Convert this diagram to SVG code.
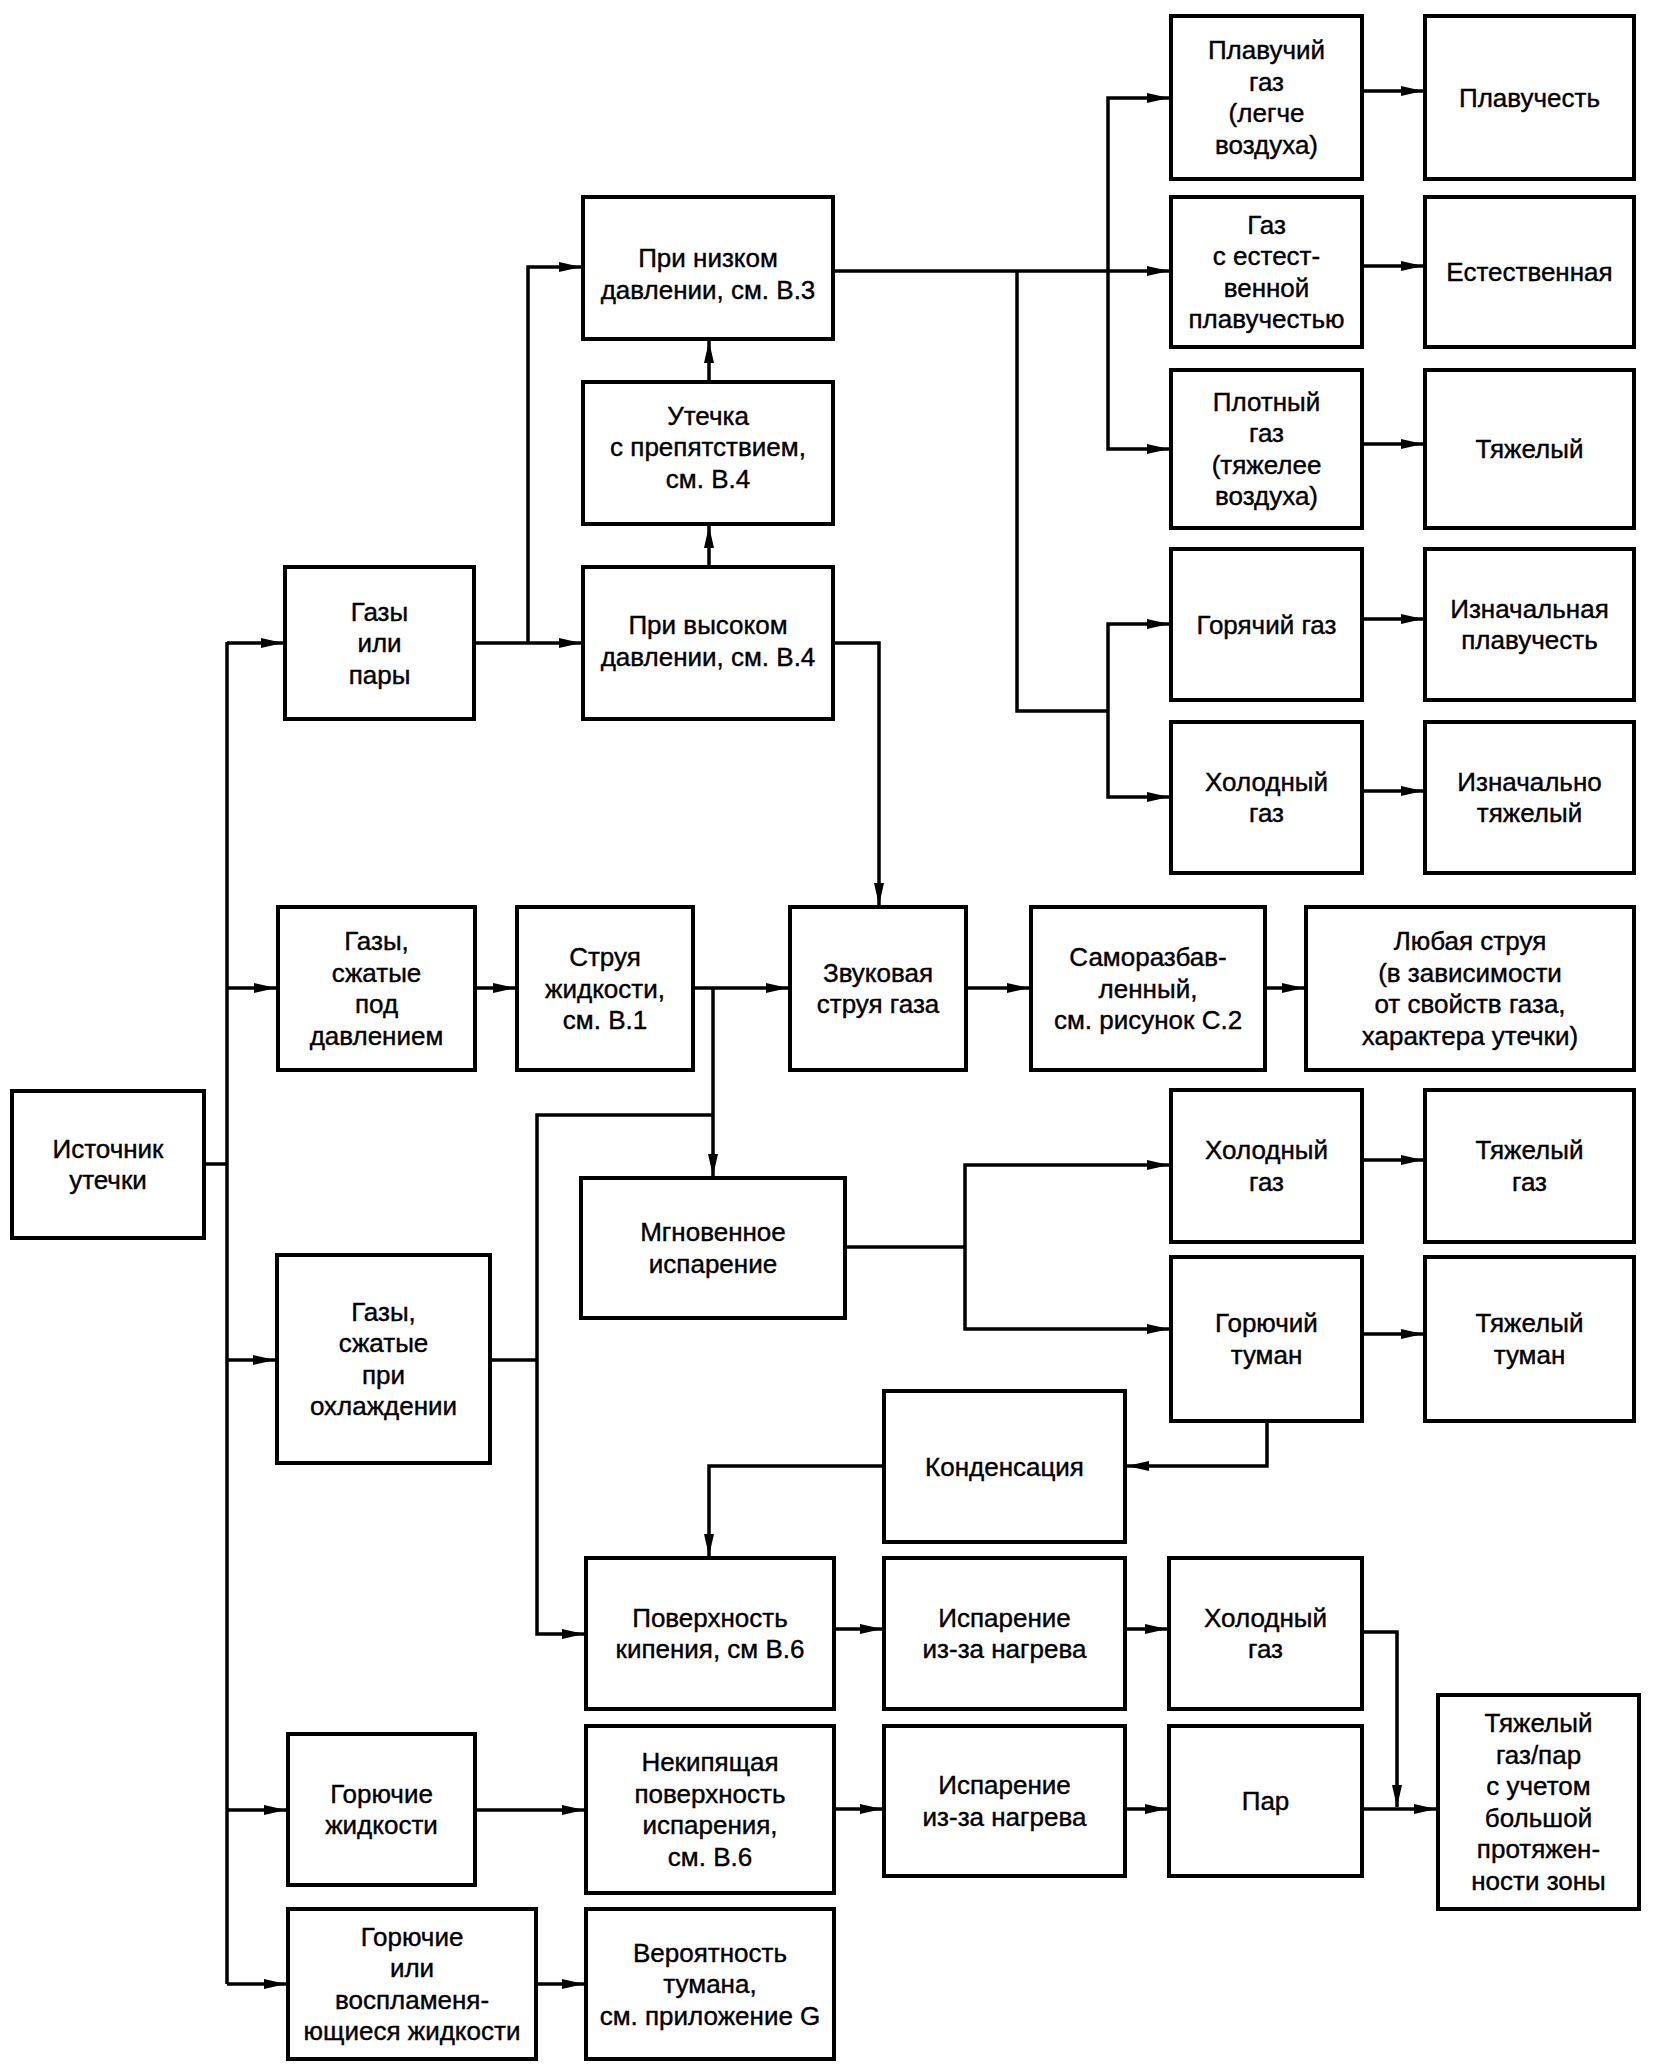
<svg xmlns="http://www.w3.org/2000/svg" width="1654" height="2071" viewBox="0 0 1654 2071">
<style>
.b{fill:#fff;stroke:#000;stroke-width:4}
.t{font-family:"Liberation Sans",Arial,sans-serif;font-size:26px;fill:#000;stroke:#000;stroke-width:0.4;text-anchor:middle}
.c{fill:none;stroke:#000;stroke-width:3.5}
.a{marker-end:url(#ah)}
</style>
<defs>
<marker id="ah" markerUnits="userSpaceOnUse" markerWidth="22" markerHeight="10" refX="22" refY="5" orient="auto">
<path d="M0,0 L22,5 L0,10 Z" fill="#000"/>
</marker>
</defs>
<rect width="1654" height="2071" fill="#fff"/>
<g id="connectors">
<path class="c" d="M204,1164 H227"/>
<path class="c" d="M227,642 V1984"/>
<path class="c a" d="M227,643 H283"/>
<path class="c a" d="M227,988 H276"/>
<path class="c a" d="M227,1360 H275"/>
<path class="c a" d="M227,1810 H286"/>
<path class="c a" d="M227,1984 H286"/>
<path class="c a" d="M474,643 H581"/>
<path class="c a" d="M528,643 V267 H581"/>
<path class="c a" d="M709,567 V526"/>
<path class="c a" d="M709,382 V341"/>
<path class="c a" d="M833,271 H1169"/>
<path class="c a" d="M1108,271 V98 H1169"/>
<path class="c a" d="M1108,271 V449 H1169"/>
<path class="c" d="M1017,271 V711 H1108"/>
<path class="c a" d="M1108,711 V624 H1169"/>
<path class="c a" d="M1108,711 V797 H1169"/>
<path class="c a" d="M1362,91 H1423"/>
<path class="c a" d="M1362,266 H1423"/>
<path class="c a" d="M1362,444 H1423"/>
<path class="c a" d="M1362,619 H1423"/>
<path class="c a" d="M1362,791 H1423"/>
<path class="c a" d="M833,643 H879 V905"/>
<path class="c a" d="M475,988 H515"/>
<path class="c a" d="M693,988 H788"/>
<path class="c a" d="M966,988 H1029"/>
<path class="c a" d="M1265,988 H1304"/>
<path class="c a" d="M713,988 V1176"/>
<path class="c a" d="M713,1115 H537 V1634 H584"/>
<path class="c" d="M490,1360 H537"/>
<path class="c" d="M845,1247 H965"/>
<path class="c a" d="M965,1247 V1165 H1169"/>
<path class="c a" d="M965,1247 V1329 H1169"/>
<path class="c a" d="M1362,1160 H1423"/>
<path class="c a" d="M1362,1334 H1423"/>
<path class="c a" d="M1267,1421 V1466 H1127"/>
<path class="c a" d="M884,1466 H709 V1556"/>
<path class="c a" d="M834,1629 H882"/>
<path class="c a" d="M1125,1629 H1167"/>
<path class="c a" d="M1362,1632 H1397 V1807"/>
<path class="c a" d="M475,1810 H584"/>
<path class="c a" d="M834,1809 H882"/>
<path class="c a" d="M1125,1809 H1167"/>
<path class="c a" d="M1362,1809 H1436"/>
<path class="c a" d="M536,1984 H584"/>
</g>
<g id="n-source"><rect class="b" x="12" y="1091" width="192" height="147"/><text class="t"><tspan x="108" y="1157.75">Источник</tspan><tspan x="108" y="1189.25">утечки</tspan></text></g>
<g id="n-gases"><rect class="b" x="285" y="567" width="189" height="152"/><text class="t"><tspan x="379.5" y="620.5">Газы</tspan><tspan x="379.5" y="652">или</tspan><tspan x="379.5" y="683.5">пары</tspan></text></g>
<g id="n-lowp"><rect class="b" x="583" y="197" width="250" height="142"/><text class="t"><tspan x="708" y="267.25">При низком</tspan><tspan x="708" y="298.75">давлении, см. В.3</tspan></text></g>
<g id="n-obst"><rect class="b" x="583" y="382" width="250" height="142"/><text class="t"><tspan x="708" y="424.5">Утечка</tspan><tspan x="708" y="456">с препятствием,</tspan><tspan x="708" y="487.5">см. В.4</tspan></text></g>
<g id="n-highp"><rect class="b" x="583" y="567" width="250" height="152"/><text class="t"><tspan x="708" y="634.25">При высоком</tspan><tspan x="708" y="665.75">давлении, см. В.4</tspan></text></g>
<g id="n-buoyant"><rect class="b" x="1171" y="16" width="191" height="163"/><text class="t"><tspan x="1266.5" y="59.25">Плавучий</tspan><tspan x="1266.5" y="90.75">газ</tspan><tspan x="1266.5" y="122.25">(легче</tspan><tspan x="1266.5" y="153.75">воздуха)</tspan></text></g>
<g id="n-buoyancy"><rect class="b" x="1425" y="16" width="209" height="163"/><text class="t"><tspan x="1529.5" y="106.5">Плавучесть</tspan></text></g>
<g id="n-natural"><rect class="b" x="1171" y="197" width="191" height="150"/><text class="t"><tspan x="1266.5" y="233.75">Газ</tspan><tspan x="1266.5" y="265.25">с естест-</tspan><tspan x="1266.5" y="296.75">венной</tspan><tspan x="1266.5" y="328.25">плавучестью</tspan></text></g>
<g id="n-natural2"><rect class="b" x="1425" y="197" width="209" height="150"/><text class="t"><tspan x="1529.5" y="281">Естественная</tspan></text></g>
<g id="n-dense"><rect class="b" x="1171" y="370" width="191" height="158"/><text class="t"><tspan x="1266.5" y="410.75">Плотный</tspan><tspan x="1266.5" y="442.25">газ</tspan><tspan x="1266.5" y="473.75">(тяжелее</tspan><tspan x="1266.5" y="505.25">воздуха)</tspan></text></g>
<g id="n-heavy"><rect class="b" x="1425" y="370" width="209" height="158"/><text class="t"><tspan x="1529.5" y="458">Тяжелый</tspan></text></g>
<g id="n-hot"><rect class="b" x="1171" y="549" width="191" height="151"/><text class="t"><tspan x="1266.5" y="633.5">Горячий газ</tspan></text></g>
<g id="n-initbuoy"><rect class="b" x="1425" y="549" width="209" height="151"/><text class="t"><tspan x="1529.5" y="617.75">Изначальная</tspan><tspan x="1529.5" y="649.25">плавучесть</tspan></text></g>
<g id="n-cold1"><rect class="b" x="1171" y="722" width="191" height="151"/><text class="t"><tspan x="1266.5" y="790.75">Холодный</tspan><tspan x="1266.5" y="822.25">газ</tspan></text></g>
<g id="n-initheavy"><rect class="b" x="1425" y="722" width="209" height="151"/><text class="t"><tspan x="1529.5" y="790.75">Изначально</tspan><tspan x="1529.5" y="822.25">тяжелый</tspan></text></g>
<g id="n-pressurized"><rect class="b" x="278" y="907" width="197" height="163"/><text class="t"><tspan x="376.5" y="950.25">Газы,</tspan><tspan x="376.5" y="981.75">сжатые</tspan><tspan x="376.5" y="1013.25">под</tspan><tspan x="376.5" y="1044.75">давлением</tspan></text></g>
<g id="n-liqjet"><rect class="b" x="517" y="907" width="176" height="163"/><text class="t"><tspan x="605" y="966">Струя</tspan><tspan x="605" y="997.5">жидкости,</tspan><tspan x="605" y="1029">см. В.1</tspan></text></g>
<g id="n-sonic"><rect class="b" x="790" y="907" width="176" height="163"/><text class="t"><tspan x="878" y="981.75">Звуковая</tspan><tspan x="878" y="1013.25">струя газа</tspan></text></g>
<g id="n-selfdil"><rect class="b" x="1031" y="907" width="234" height="163"/><text class="t"><tspan x="1148" y="966">Саморазбав-</tspan><tspan x="1148" y="997.5">ленный,</tspan><tspan x="1148" y="1029">см. рисунок С.2</tspan></text></g>
<g id="n-anyjet"><rect class="b" x="1306" y="907" width="328" height="163"/><text class="t"><tspan x="1470" y="950.25">Любая струя</tspan><tspan x="1470" y="981.75">(в зависимости</tspan><tspan x="1470" y="1013.25">от свойств газа,</tspan><tspan x="1470" y="1044.75">характера утечки)</tspan></text></g>
<g id="n-flash"><rect class="b" x="581" y="1178" width="264" height="140"/><text class="t"><tspan x="713" y="1241.25">Мгновенное</tspan><tspan x="713" y="1272.75">испарение</tspan></text></g>
<g id="n-cold2"><rect class="b" x="1171" y="1090" width="191" height="152"/><text class="t"><tspan x="1266.5" y="1159.25">Холодный</tspan><tspan x="1266.5" y="1190.75">газ</tspan></text></g>
<g id="n-heavygas"><rect class="b" x="1425" y="1090" width="209" height="152"/><text class="t"><tspan x="1529.5" y="1159.25">Тяжелый</tspan><tspan x="1529.5" y="1190.75">газ</tspan></text></g>
<g id="n-refrig"><rect class="b" x="277" y="1255" width="213" height="208"/><text class="t"><tspan x="383.5" y="1320.75">Газы,</tspan><tspan x="383.5" y="1352.25">сжатые</tspan><tspan x="383.5" y="1383.75">при</tspan><tspan x="383.5" y="1415.25">охлаждении</tspan></text></g>
<g id="n-mist"><rect class="b" x="1171" y="1257" width="191" height="164"/><text class="t"><tspan x="1266.5" y="1332.25">Горючий</tspan><tspan x="1266.5" y="1363.75">туман</tspan></text></g>
<g id="n-heavymist"><rect class="b" x="1425" y="1257" width="209" height="164"/><text class="t"><tspan x="1529.5" y="1332.25">Тяжелый</tspan><tspan x="1529.5" y="1363.75">туман</tspan></text></g>
<g id="n-condens"><rect class="b" x="884" y="1391" width="241" height="151"/><text class="t"><tspan x="1004.5" y="1475.5">Конденсация</tspan></text></g>
<g id="n-boil"><rect class="b" x="586" y="1558" width="248" height="151"/><text class="t"><tspan x="710" y="1626.75">Поверхность</tspan><tspan x="710" y="1658.25">кипения, см В.6</tspan></text></g>
<g id="n-evap1"><rect class="b" x="884" y="1558" width="241" height="151"/><text class="t"><tspan x="1004.5" y="1626.75">Испарение</tspan><tspan x="1004.5" y="1658.25">из-за нагрева</tspan></text></g>
<g id="n-cold3"><rect class="b" x="1169" y="1558" width="193" height="151"/><text class="t"><tspan x="1265.5" y="1626.75">Холодный</tspan><tspan x="1265.5" y="1658.25">газ</tspan></text></g>
<g id="n-flamliq"><rect class="b" x="288" y="1734" width="187" height="151"/><text class="t"><tspan x="381.5" y="1802.75">Горючие</tspan><tspan x="381.5" y="1834.25">жидкости</tspan></text></g>
<g id="n-nonboil"><rect class="b" x="586" y="1726" width="248" height="167"/><text class="t"><tspan x="710" y="1771.25">Некипящая</tspan><tspan x="710" y="1802.75">поверхность</tspan><tspan x="710" y="1834.25">испарения,</tspan><tspan x="710" y="1865.75">см. В.6</tspan></text></g>
<g id="n-evap2"><rect class="b" x="884" y="1726" width="241" height="150"/><text class="t"><tspan x="1004.5" y="1794.25">Испарение</tspan><tspan x="1004.5" y="1825.75">из-за нагрева</tspan></text></g>
<g id="n-vapour"><rect class="b" x="1169" y="1726" width="193" height="150"/><text class="t"><tspan x="1265.5" y="1810">Пар</tspan></text></g>
<g id="n-heavyzone"><rect class="b" x="1438" y="1695" width="201" height="214"/><text class="t"><tspan x="1538.5" y="1732.25">Тяжелый</tspan><tspan x="1538.5" y="1763.75">газ/пар</tspan><tspan x="1538.5" y="1795.25">с учетом</tspan><tspan x="1538.5" y="1826.75">большой</tspan><tspan x="1538.5" y="1858.25">протяжен-</tspan><tspan x="1538.5" y="1889.75">ности зоны</tspan></text></g>
<g id="n-flamliq2"><rect class="b" x="288" y="1909" width="248" height="150"/><text class="t"><tspan x="412" y="1945.75">Горючие</tspan><tspan x="412" y="1977.25">или</tspan><tspan x="412" y="2008.75">воспламеня-</tspan><tspan x="412" y="2040.25">ющиеся жидкости</tspan></text></g>
<g id="n-mistprob"><rect class="b" x="586" y="1909" width="248" height="150"/><text class="t"><tspan x="710" y="1961.5">Вероятность</tspan><tspan x="710" y="1993">тумана,</tspan><tspan x="710" y="2024.5">см. приложение G</tspan></text></g>
</svg>
